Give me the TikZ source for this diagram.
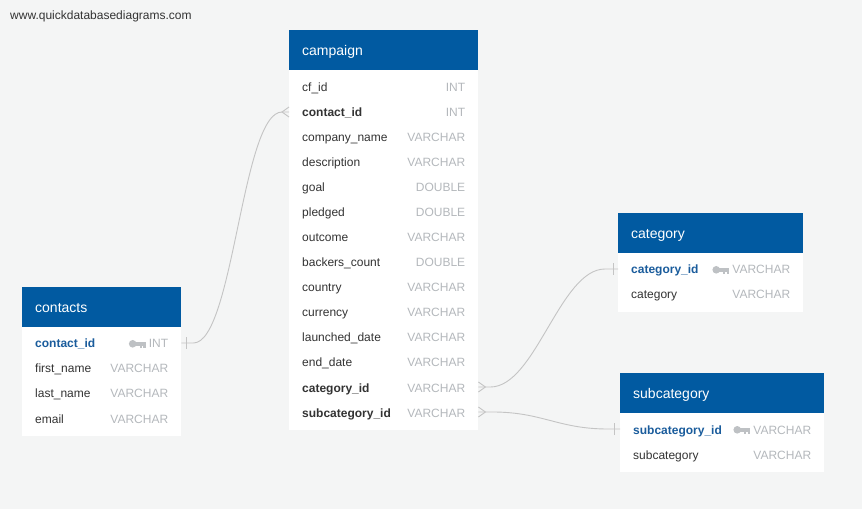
\documentclass[tikz,border=0pt]{standalone}
\usepackage{fontspec}
\setmainfont{Liberation Sans}
\definecolor{qdbg}{RGB}{244,245,245}
\definecolor{qdhead}{RGB}{1,90,161}
\definecolor{qdtext}{RGB}{51,51,51}
\definecolor{qdpk}{RGB}{26,92,156}
\definecolor{qdtype}{RGB}{180,184,188}
\definecolor{qdkey}{RGB}{190,193,196}
\definecolor{qdline}{RGB}{196,196,196}
\newcommand{\fldtype}[1]{\textcolor{qdtype}{#1}}
\newcommand{\pkkey}{\tikz[baseline={(0,-4.2pt)}]{\fill[qdkey] (3.8pt,0) circle (3.8pt); \fill[qdkey] (6pt,-1.8pt) rectangle (17pt,1.8pt); \fill[qdkey] (11pt,-1.8pt) rectangle (13pt,-3.8pt); \fill[qdkey] (14.5pt,-1.8pt) rectangle (17pt,-3.8pt);}}

\begin{document}
\begin{tikzpicture}[
  x=1pt, y=1pt,
  hdr/.style={anchor=north west, fill=qdhead, text=white, align=left, minimum height=40pt, inner xsep=13pt, inner ysep=0pt, text height=12pt, text depth=1pt, font=\fontsize{14}{16}\selectfont},
  tbody/.style={anchor=north west, fill=white, inner sep=0pt},
  row/.style={anchor=west, align=left, minimum height=25pt, inner xsep=13pt, inner ysep=0pt, text height=11pt, text depth=1pt, text=qdtext, font=\fontsize{12}{14}\selectfont},
  pk/.style={row, text=qdpk, font=\fontsize{12}{14}\selectfont\bfseries},
  fk/.style={row, font=\fontsize{12}{14}\selectfont\bfseries},
  rel/.style={draw=qdline, line width=0.9pt},
]
\fill[qdbg] (0,0) rectangle (862,509);
\node[anchor=west, inner sep=0pt, text=qdtext, font=\fontsize{12}{14}\selectfont] (site) at (10,493) {www.quickdatabasediagrams.com};

% campaign
\node[tbody, minimum width=189pt, minimum height=360pt] (cp-body) at (289,439) {};
\node[hdr, text width=163pt] (cp-head) at (289,479) {campaign};
\node[row, text width=163pt] (cp-cfid) at (289,422) {cf\_id\hfill\fldtype{INT}};
\node[fk, text width=163pt] (cp-contact) at (289,397) {contact\_id\hfill\fldtype{\mdseries INT}};
\node[row, text width=163pt] (cp-company) at (289,372) {company\_name\hfill\fldtype{VARCHAR}};
\node[row, text width=163pt] (cp-desc) at (289,347) {description\hfill\fldtype{VARCHAR}};
\node[row, text width=163pt] (cp-goal) at (289,322) {goal\hfill\fldtype{DOUBLE}};
\node[row, text width=163pt] (cp-pledged) at (289,297) {pledged\hfill\fldtype{DOUBLE}};
\node[row, text width=163pt] (cp-outcome) at (289,272) {outcome\hfill\fldtype{VARCHAR}};
\node[row, text width=163pt] (cp-backers) at (289,247) {backers\_count\hfill\fldtype{DOUBLE}};
\node[row, text width=163pt] (cp-country) at (289,222) {country\hfill\fldtype{VARCHAR}};
\node[row, text width=163pt] (cp-currency) at (289,197) {currency\hfill\fldtype{VARCHAR}};
\node[row, text width=163pt] (cp-launched) at (289,172) {launched\_date\hfill\fldtype{VARCHAR}};
\node[row, text width=163pt] (cp-end) at (289,147) {end\_date\hfill\fldtype{VARCHAR}};
\node[fk, text width=163pt] (cp-cat) at (289,122) {category\_id\hfill\fldtype{\mdseries VARCHAR}};
\node[fk, text width=163pt] (cp-subcat) at (289,97) {subcategory\_id\hfill\fldtype{\mdseries VARCHAR}};

% contacts
\node[tbody, minimum width=159pt, minimum height=110pt] (ct-body) at (22,183) {};
\node[hdr, text width=133pt] (ct-head) at (22,222) {contacts};
\node[pk, text width=133pt] (ct-id) at (22,166) {contact\_id\hfill\pkkey\hspace{3pt}\fldtype{\mdseries INT}};
\node[row, text width=133pt] (ct-first) at (22,141) {first\_name\hfill\fldtype{VARCHAR}};
\node[row, text width=133pt] (ct-last) at (22,116) {last\_name\hfill\fldtype{VARCHAR}};
\node[row, text width=133pt] (ct-email) at (22,91) {email\hfill\fldtype{VARCHAR}};

% category
\node[tbody, minimum width=185pt, minimum height=59pt] (ca-body) at (618,256) {};
\node[hdr, text width=159pt] (ca-head) at (618,296) {category};
\node[pk, text width=159pt] (ca-id) at (618,240) {category\_id\hfill\pkkey\hspace{3pt}\fldtype{\mdseries VARCHAR}};
\node[row, text width=159pt] (ca-name) at (618,215) {category\hfill\fldtype{VARCHAR}};

% subcategory
\node[tbody, minimum width=204pt, minimum height=59pt] (sc-body) at (620,96) {};
\node[hdr, text width=178pt] (sc-head) at (620,136) {subcategory};
\node[pk, text width=178pt] (sc-id) at (620,80) {subcategory\_id\hfill\pkkey\hspace{3pt}\fldtype{\mdseries VARCHAR}};
\node[row, text width=178pt] (sc-name) at (620,55) {subcategory\hfill\fldtype{VARCHAR}};

% relations
\draw[rel] (ct-id.east) -- ++(12,0) .. controls +(40,0) and +(-40,0) .. ([xshift=-7pt]cp-contact.west) -- (cp-contact.west);
\draw[rel] ([xshift=5pt,yshift=-6pt]ct-id.east) -- ([xshift=5pt,yshift=6pt]ct-id.east);
\draw[rel] ([yshift=5pt]cp-contact.west) -- ([xshift=-7pt]cp-contact.west) -- ([yshift=-5pt]cp-contact.west);

\draw[rel] (cp-cat.east) -- ++(12,0) .. controls +(45,0) and +(-45,0) .. ([xshift=-13pt]ca-id.west) -- (ca-id.west);
\draw[rel] ([yshift=5pt]cp-cat.east) -- ([xshift=7pt]cp-cat.east) -- ([yshift=-5pt]cp-cat.east);
\draw[rel] ([xshift=-5pt,yshift=-6pt]ca-id.west) -- ([xshift=-5pt,yshift=6pt]ca-id.west);

\draw[rel] (cp-subcat.east) -- ++(14,0) .. controls +(50,0) and +(-50,0) .. ([xshift=-12pt]sc-id.west) -- (sc-id.west);
\draw[rel] ([yshift=5pt]cp-subcat.east) -- ([xshift=7pt]cp-subcat.east) -- ([yshift=-5pt]cp-subcat.east);
\draw[rel] ([xshift=-6pt,yshift=-6pt]sc-id.west) -- ([xshift=-6pt,yshift=6pt]sc-id.west);
\end{tikzpicture}
\end{document}
